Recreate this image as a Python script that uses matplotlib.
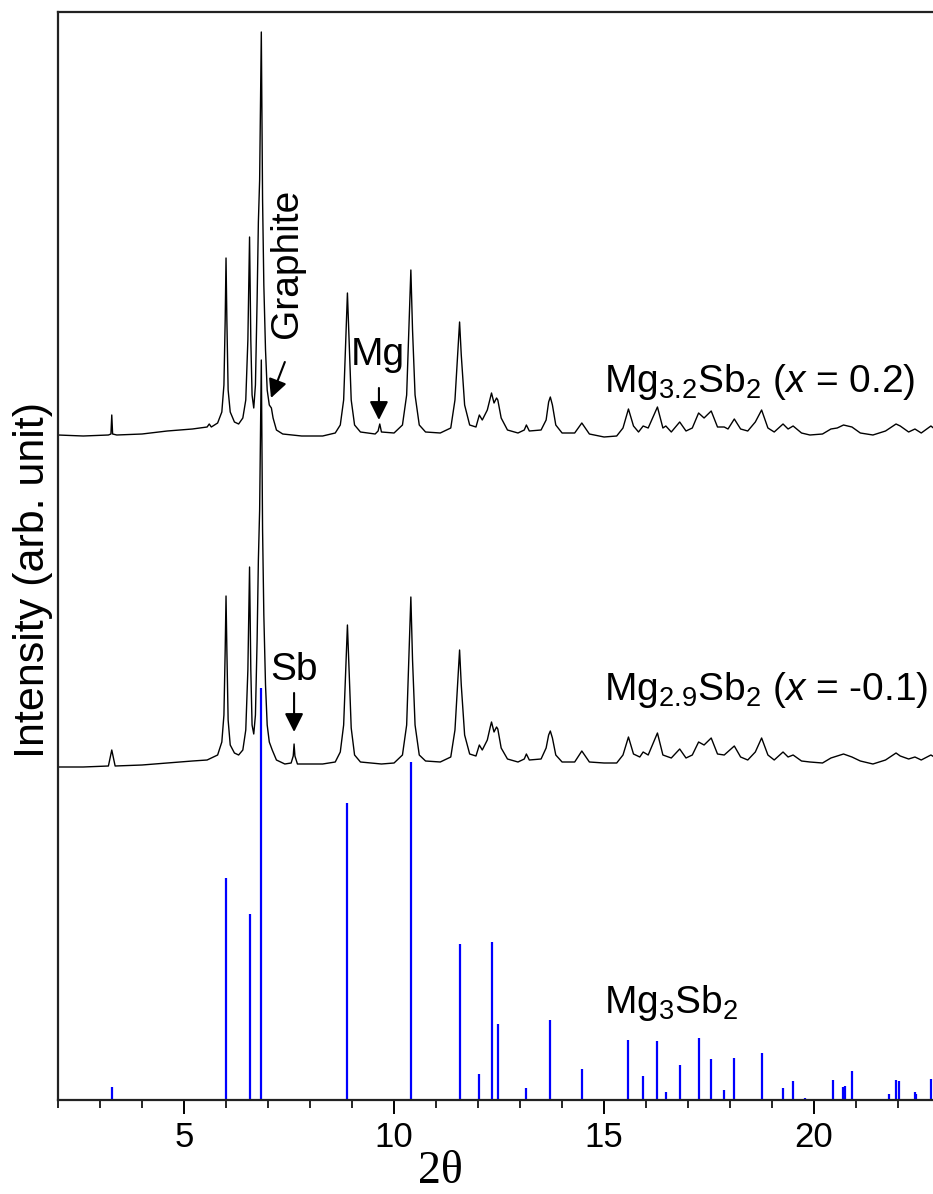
import numpy as np
import matplotlib
matplotlib.use('Agg')
import matplotlib.pyplot as plt
from matplotlib.ticker import MultipleLocator

plt.rcParams['font.family'] = ['Liberation Sans', 'DejaVu Sans']
plt.rcParams['mathtext.fontset'] = 'custom'
plt.rcParams['mathtext.rm'] = 'Liberation Sans'
plt.rcParams['mathtext.it'] = 'Liberation Sans:italic'

# 2theta / intensity (intensity in arb. units)
two_theta_upper = [2.00, 2.60, 3.20, 3.26, 3.28, 3.30, 3.40, 4.00, 4.60, 5.20, 5.55, 5.60, 5.65, 5.80,
                   5.90, 5.95, 5.98, 6.00, 6.02, 6.05, 6.10, 6.20, 6.30, 6.40, 6.47, 6.52, 6.56, 6.59,
                   6.62, 6.66, 6.70, 6.74, 6.77, 6.80, 6.84, 6.87, 6.90, 6.94, 6.98, 7.03, 7.08, 7.12,
                   7.20, 7.35, 7.80, 8.30, 8.60, 8.72, 8.80, 8.85, 8.89, 8.93, 8.98, 9.06, 9.20, 9.55,
                   9.62, 9.66, 9.70, 10.00, 10.20, 10.30, 10.36, 10.40, 10.44, 10.50, 10.60, 10.75,
                   11.10, 11.35, 11.45, 11.52, 11.56, 11.60, 11.68, 11.80, 11.95, 12.03, 12.10, 12.22,
                   12.29, 12.32, 12.38, 12.44, 12.47, 12.55, 12.70, 12.95, 13.10, 13.15, 13.22, 13.50,
                   13.62, 13.68, 13.72, 13.77, 13.85, 14.00, 14.30, 14.47, 14.65, 15.00, 15.30, 15.45,
                   15.58, 15.70, 15.82, 15.93, 16.05, 16.27, 16.40, 16.47, 16.60, 16.80, 16.95, 17.10,
                   17.25, 17.38, 17.55, 17.70, 17.86, 17.95, 18.10, 18.25, 18.42, 18.60, 18.75, 18.90,
                   19.05, 19.26, 19.38, 19.50, 19.70, 19.90, 20.20, 20.40, 20.55, 20.70, 20.90, 21.10,
                   21.40, 21.70, 21.95, 22.05, 22.25, 22.40, 22.55, 22.78, 22.90]
intensity_upper = [665, 664, 665, 666, 685, 666, 665, 666, 669, 671, 673, 676, 673, 677,
                   688, 715, 780, 842, 780, 710, 688, 678, 676, 682, 700, 760, 863, 760,
                   705, 692, 715, 800, 878, 920, 1068, 900, 815, 750, 710, 695, 692, 682,
                   670, 666, 664, 664, 667, 675, 700, 760, 807, 760, 700, 675, 668, 666,
                   669, 676, 668, 667, 675, 705, 780, 830, 770, 705, 675, 668,
                   667, 672, 700, 750, 778, 745, 695, 675, 673, 685, 680, 690,
                   702, 707, 697, 702, 700, 682, 670, 667, 670, 675, 669, 670,
                   680, 698, 703, 695, 675, 667, 667, 677, 666, 663, 664, 672,
                   691, 674, 668, 674, 672, 693, 672, 674, 668, 678, 669, 672,
                   687, 682, 689, 673, 673, 671, 681, 671, 669, 678, 690, 672,
                   668, 676, 671, 674, 667, 665, 666, 671, 672, 675, 673, 667,
                   665, 669, 676, 674, 668, 671, 667, 674, 670]

two_theta_lower = [2.00, 2.60, 3.20, 3.28, 3.36, 4.00, 4.60, 5.20, 5.55, 5.80, 5.90, 5.95, 5.98,
                   6.00, 6.02, 6.05, 6.10, 6.20, 6.30, 6.40, 6.47, 6.52, 6.56, 6.59, 6.62, 6.66,
                   6.70, 6.74, 6.77, 6.80, 6.84, 6.87, 6.90, 6.94, 6.98, 7.03, 7.10, 7.20, 7.40,
                   7.55, 7.60, 7.62, 7.64, 7.70, 8.30, 8.60, 8.72, 8.80, 8.85, 8.89, 8.93, 8.98,
                   9.06, 9.20, 9.70, 10.00, 10.20, 10.30, 10.36, 10.40, 10.44, 10.50, 10.60, 10.75,
                   11.10, 11.35, 11.45, 11.52, 11.56, 11.60, 11.68, 11.80, 11.95, 12.03, 12.10, 12.22,
                   12.29, 12.32, 12.38, 12.44, 12.47, 12.55, 12.70, 12.95, 13.10, 13.15, 13.22, 13.50,
                   13.62, 13.68, 13.72, 13.77, 13.85, 14.00, 14.30, 14.47, 14.65, 15.00, 15.30, 15.45,
                   15.58, 15.70, 15.85, 15.93, 16.05, 16.27, 16.40, 16.60, 16.80, 16.95, 17.10, 17.25,
                   17.38, 17.55, 17.70, 17.86, 18.10, 18.25, 18.42, 18.60, 18.75, 18.90, 19.05, 19.26,
                   19.38, 19.50, 19.70, 19.90, 20.20, 20.40, 20.70, 20.90, 21.10, 21.40, 21.70, 21.95,
                   22.05, 22.25, 22.40, 22.55, 22.78, 22.90]
intensity_lower = [333, 333, 334, 350, 334, 335, 337, 339, 340, 345, 358, 385, 450,
                   504, 450, 380, 355, 347, 345, 350, 370, 430, 533, 430, 375, 366,
                   385, 460, 540, 590, 740, 570, 485, 415, 375, 358, 350, 340, 336,
                   337, 344, 356, 344, 336, 336, 338, 348, 375, 430, 475, 430, 372,
                   345, 338, 336, 337, 345, 375, 450, 503, 440, 375, 345, 339,
                   338, 343, 370, 420, 450, 415, 365, 346, 344, 355, 350, 360,
                   373, 378, 368, 373, 371, 352, 341, 338, 341, 346, 340, 341,
                   352, 365, 369, 362, 345, 338, 338, 349, 338, 337, 337, 345,
                   363, 346, 343, 348, 345, 367, 345, 342, 351, 342, 345, 358,
                   355, 362, 346, 345, 354, 343, 340, 348, 362, 345, 340, 348,
                   343, 345, 339, 338, 337, 342, 346, 343, 339, 336, 340, 347,
                   344, 341, 343, 340, 345, 342]

# Mg3Sb2 reference pattern
ref_two_theta = [3.28, 6.00, 6.56, 6.84, 8.89, 10.40, 10.92, 11.56, 12.03, 12.32, 12.47, 13.15,
                 13.72, 14.38, 14.47, 15.58, 15.93, 16.27, 16.47, 16.80, 17.25, 17.55, 17.86,
                 18.10, 18.75, 19.26, 19.50, 19.79, 20.45, 20.69, 20.73, 20.91, 21.78, 21.95,
                 22.02, 22.40, 22.43, 22.78]
ref_intensity = [13, 222, 186, 412, 297, 338, 1, 156, 26, 158, 76, 12,
                 80, 1, 31, 60, 24, 59, 8, 35, 62, 41, 10,
                 42, 47, 12, 19, 2, 20, 13, 14, 29, 6, 20,
                 19, 8, 6, 21]

fig = plt.figure(figsize=(9.33, 11.94), dpi=100, facecolor='white')
ax = fig.add_axes([58/933, 1-1100/1194, 875/933, 1088/1194])

ax.plot(two_theta_upper, intensity_upper, color='black', lw=1.0)
ax.plot(two_theta_lower, intensity_lower, color='black', lw=1.0)
ax.vlines(ref_two_theta, 0, ref_intensity, colors='#0000ff', lw=1.6)

ax.set_xlim(2, 22.83)
ax.set_ylim(0, 1088)
ax.set_xticks([5, 10, 15, 20])
ax.xaxis.set_minor_locator(MultipleLocator(1))
ax.set_yticks([])
ax.spines['right'].set_visible(False)
for s in ['left', 'top', 'bottom']:
    ax.spines[s].set_linewidth(1.6)
    ax.spines[s].set_color('#222222')
ax.tick_params(axis='x', which='major', direction='out', length=10, width=1.4, pad=5, labelsize=25)
ax.tick_params(axis='x', which='minor', direction='out', length=6, width=1.2)
for lab in ax.get_xticklabels():
    lab.set_family(['Liberation Sans Narrow', 'Liberation Sans'])

fig.text(440/933, 1-1172/1194, '2θ', family='Liberation Serif', fontsize=33, ha='center', va='center')
fig.text(33/933, 1-580/1194, 'Intensity (arb. unit)', fontsize=31, rotation=90, ha='center', va='center')

lab_fs = 28
ax.text(15.0, 708, r'Mg$_{3.2}$Sb$_2$ ($x$ = 0.2)', fontsize=lab_fs, ha='left', va='baseline')
ax.text(15.0, 400, r'Mg$_{2.9}$Sb$_2$ ($x$ = -0.1)', fontsize=lab_fs, ha='left', va='baseline')
ax.text(15.0, 87, r'Mg$_3$Sb$_2$', fontsize=lab_fs, ha='left', va='baseline')

arrow = dict(arrowstyle='-|>', color='black', lw=1.5, mutation_scale=28, shrinkA=0, shrinkB=0)
ax.text(7.45, 837, 'Graphite', fontsize=lab_fs, rotation=90, ha='center', va='center')
ax.annotate('', xy=(7.07, 702), xytext=(7.40, 738), arrowprops=arrow)
ax.text(9.62, 745, 'Mg', fontsize=lab_fs, ha='center', va='center')
ax.annotate('', xy=(9.64, 680), xytext=(9.64, 712), arrowprops=arrow)
ax.text(7.62, 430, 'Sb', fontsize=lab_fs, ha='center', va='center')
ax.annotate('', xy=(7.62, 368), xytext=(7.62, 407), arrowprops=arrow)

plt.savefig('out.png', dpi=100)
